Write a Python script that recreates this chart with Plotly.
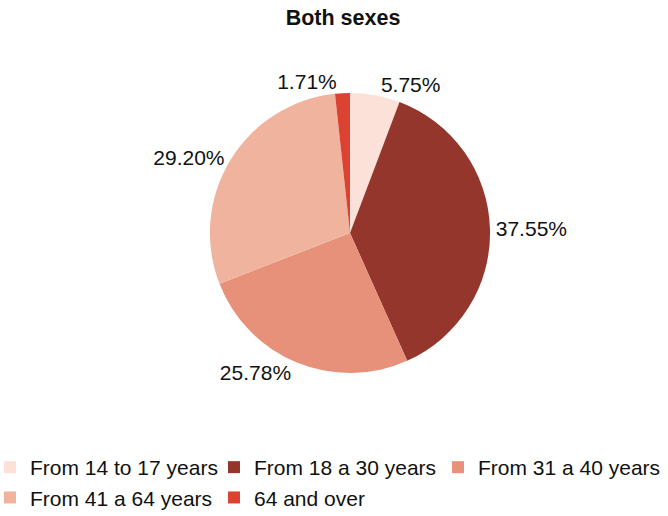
import plotly.graph_objects as go

categories = ["From 14 to 17 years", "From 18 a 30 years", "From 31 a 40 years",
              "From 41 a 64 years", "64 and over"]
values = [5.75, 37.55, 25.78, 29.20, 1.71]
colors = ["#FCE1D8", "#95362C", "#E8917A", "#F0B39E", "#DC4232"]
title = "Both sexes"

W, H = 668, 516
cx, cy, r = 350, 234.5, 141
HP = 450  # plot-area height left after the legend pushes the bottom margin

fig = go.Figure(go.Pie(
    labels=categories,
    values=values,
    sort=False,
    direction="clockwise",
    rotation=0,
    marker=dict(colors=colors, line=dict(width=0)),
    texttemplate="%{value:.2f}%",
    textposition="outside",
    textfont=dict(size=21, color="#111111"),
    hoverinfo="label+value",
    domain=dict(x=[(cx - r) / W, (cx + r) / W], y=[(HP - cy - r) / HP, (HP - cy + r) / HP]),
    showlegend=True,
))

fig.update_layout(
    width=W, height=H,
    margin=dict(l=0, r=0, t=0, b=0),
    paper_bgcolor="white",
    font=dict(family="Liberation Sans, Arial, sans-serif", size=21, color="#111111"),
    title=dict(text="<b>" + title + "</b>", x=343 / W, xanchor="center",
               y=1 - 17 / H, yanchor="middle", yref="container",
               font=dict(size=21.5, color="#111111")),
    legend=dict(orientation="h", x=0, xanchor="left", xref="container",
                y=1 - 447 / H, yanchor="top", yref="container",
                font=dict(size=21), itemwidth=30, tracegroupgap=0, indentation=-10,
                entrywidth=189, entrywidthmode="pixels"),
)

fig.write_html("out.html", post_script="document.body.style.margin='0px';",
               config={"displayModeBar": False})
